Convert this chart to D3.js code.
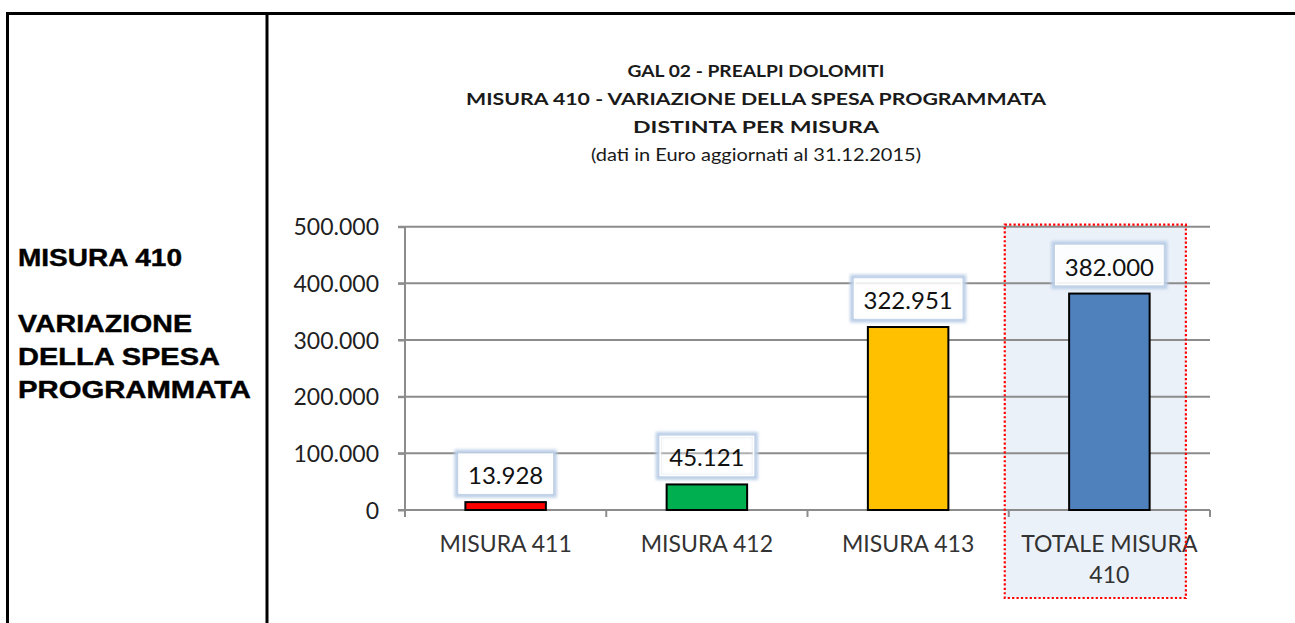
<!DOCTYPE html>
<html>
<head>
<meta charset="utf-8">
<script src="https://cdn.jsdelivr.net/npm/d3@7"></script>
<style>
  html, body { margin: 0; padding: 0; background: #ffffff; }
  svg { display: block; }
</style>
</head>
<body>
<svg id="chart" width="1295" height="623"></svg>
<script>
// ---------- DATA ----------
const categories = ["MISURA 411", "MISURA 412", "MISURA 413", "TOTALE MISURA 410"];
const categoryLines = [["MISURA 411"], ["MISURA 412"], ["MISURA 413"], ["TOTALE MISURA", "410"]];
const values = [13928, 45121, 322951, 382000];
const barColors = ["#FF0000", "#00B050", "#FFC000", "#4F81BD"];
const yTicks = [0, 100000, 200000, 300000, 400000, 500000];
const titleLines = [
  "GAL 02 - PREALPI DOLOMITI",
  "MISURA 410 - VARIAZIONE DELLA SPESA PROGRAMMATA",
  "DISTINTA PER MISURA"
];
const subtitle = "(dati in Euro aggiornati al 31.12.2015)";
const sideLines = ["MISURA 410", "", "VARIAZIONE", "DELLA SPESA", "PROGRAMMATA"];

// ---------- SETUP ----------
const svg = d3.select("#chart");
const it = d3.formatLocale({decimal: ",", thousands: ".", grouping: [3], currency: ["€", ""]});
const fmt = it.format(",d");

const plot = {left: 405, right: 1210, top: 226.7, bottom: 510};
const x = d3.scaleBand().domain(categories).range([plot.left, plot.right])
  .paddingInner(0.6).paddingOuter(0.3);
const y = d3.scaleLinear().domain([0, 500000]).range([plot.bottom, plot.top]);

// ---------- TABLE FRAME ----------
const frame = svg.append("g").attr("stroke", "#000").attr("stroke-width", 3);
frame.append("line").attr("x1", 7.5).attr("x2", 1295).attr("y1", 13.5).attr("y2", 13.5);
frame.append("line").attr("x1", 7.5).attr("x2", 7.5).attr("y1", 12).attr("y2", 623);
frame.append("line").attr("x1", 267).attr("x2", 267).attr("y1", 12).attr("y2", 623);

// side text
const sideBase = [265.5, 298, 331.5, 365, 398];
const sideWidths = [164, 0, 174, 202, 233];
sideLines.forEach((t, i) => {
  if (!t) return;
  svg.append("text")
    .attr("x", 18).attr("y", sideBase[i])
    .attr("font-family", "Liberation Sans, Arial, sans-serif")
    .attr("font-weight", "bold").attr("font-size", 23)
    .attr("stroke", "#000").attr("stroke-width", 0.4)
    .attr("textLength", sideWidths[i]).attr("lengthAdjust", "spacingAndGlyphs")
    .attr("fill", "#000").text(t);
});

// ---------- TITLES ----------
const titleBase = [77, 105, 133];
const titleWidths = [257, 580, 246];
titleLines.forEach((t, i) => {
  svg.append("text")
    .attr("x", 756).attr("y", titleBase[i]).attr("text-anchor", "middle")
    .attr("font-family", "Lato, sans-serif").attr("font-weight", "bold")
    .attr("font-size", 17).attr("fill", "#1a1a1a")
    .attr("textLength", titleWidths[i]).attr("lengthAdjust", "spacingAndGlyphs")
    .text(t);
});
svg.append("text")
  .attr("x", 756).attr("y", 161).attr("text-anchor", "middle")
  .attr("font-family", "Lato, sans-serif").attr("font-size", 17).attr("fill", "#1a1a1a")
  .attr("textLength", 330).attr("lengthAdjust", "spacingAndGlyphs")
  .text(subtitle);

// ---------- HIGHLIGHT (TOTAL) ----------
const lastCat = categories[categories.length - 1];
const hlLeft = x(lastCat) - x.step() * 0.3 - 4;
const hlRight = x(lastCat) + x.bandwidth() + x.step() * 0.2 - 4;
svg.append("rect")
  .attr("x", hlLeft).attr("y", plot.top - 2)
  .attr("width", hlRight - hlLeft).attr("height", 598 - (plot.top - 2))
  .attr("fill", "#EBF1F9");

// ---------- GRID & AXES ----------
const grid = svg.append("g");
grid.selectAll("line.g").data(yTicks.filter(d => d > 0)).join("line")
  .attr("x1", plot.left - 7).attr("x2", plot.right)
  .attr("y1", d => y(d)).attr("y2", d => y(d))
  .attr("stroke", "#8C8C8C").attr("stroke-width", 2);

// y axis
const yAxis = svg.append("g").attr("transform", `translate(${plot.left},0)`)
  .call(d3.axisLeft(y).tickValues(yTicks).tickFormat(fmt).tickSize(7).tickPadding(19));
yAxis.select(".domain").attr("stroke", "#8C8C8C").attr("stroke-width", 2)
  .attr("d", `M0,${plot.top}V${plot.bottom + 7}`);
yAxis.selectAll(".tick line").attr("stroke", "#8C8C8C").attr("stroke-width", 2);
yAxis.selectAll(".tick text")
  .attr("font-family", "Lato, sans-serif").attr("font-size", 23).attr("fill", "#1f1f1f")
  .attr("dy", "0.36em");

// x axis baseline and boundary ticks
const xAxis = svg.append("g").attr("transform", `translate(0,${plot.bottom})`);
xAxis.append("line").attr("x1", plot.left - 7).attr("x2", plot.right)
  .attr("y1", 0).attr("y2", 0).attr("stroke", "#8C8C8C").attr("stroke-width", 2);
const bounds = d3.range(categories.length + 1).map(i => plot.left + i * x.step());
xAxis.selectAll("line.b").data(bounds).join("line")
  .attr("x1", d => d).attr("x2", d => d).attr("y1", 0).attr("y2", 7)
  .attr("stroke", "#8C8C8C").attr("stroke-width", 2);

// category labels
categoryLines.forEach((lines, i) => {
  lines.forEach((t, j) => {
    svg.append("text")
      .attr("x", x(categories[i]) + x.bandwidth() / 2)
      .attr("y", 552 + j * 31).attr("text-anchor", "middle")
      .attr("font-family", "Lato, sans-serif").attr("font-size", 23)
      .attr("fill", "#333333").text(t);
  });
});

// ---------- BARS ----------
svg.append("g").selectAll("rect").data(values).join("rect")
  .attr("x", (d, i) => x(categories[i]))
  .attr("y", d => y(d))
  .attr("width", x.bandwidth())
  .attr("height", d => y(0) - y(d))
  .attr("fill", (d, i) => barColors[i])
  .attr("stroke", "#000").attr("stroke-width", 2);

// ---------- VALUE LABELS ----------
const defs = svg.append("defs");
const f = defs.append("filter").attr("id", "glow").attr("x", "-20%").attr("y", "-30%")
  .attr("width", "140%").attr("height", "160%");
f.append("feGaussianBlur").attr("stdDeviation", 1.5);

const labels = svg.append("g");
values.forEach((v, i) => {
  const cx = x(categories[i]) + x.bandwidth() / 2;
  const boxBottom = y(v) - 7;
  const g = labels.append("g");
  const txt = g.append("text")
    .attr("x", cx).attr("y", boxBottom - 11).attr("text-anchor", "middle")
    .attr("font-family", "Lato, sans-serif").attr("font-size", 24)
    .attr("fill", "#111").text(fmt(v));
  const w = txt.node().getComputedTextLength() + 22;
  const h = 43;
  g.insert("rect", "text")
    .attr("x", cx - w / 2).attr("y", boxBottom - h).attr("width", w).attr("height", h)
    .attr("fill", "none").attr("stroke", "#BCCFE7").attr("stroke-width", 5)
    .attr("filter", "url(#glow)");
  g.insert("rect", "text")
    .attr("x", cx - w / 2 + 2).attr("y", boxBottom - h + 2).attr("width", w - 4).attr("height", h - 4)
    .attr("fill", "#ffffff").attr("fill-opacity", i === 1 ? 0.3 : 0.85)
    .attr("stroke", "#ffffff").attr("stroke-width", 1.5);
});

// highlight dotted border on top
svg.append("rect")
  .attr("x", hlLeft).attr("y", plot.top - 2)
  .attr("width", hlRight - hlLeft).attr("height", 598 - (plot.top - 2))
  .attr("fill", "none").attr("stroke", "#FF0000").attr("stroke-width", 2.2)
  .attr("stroke-dasharray", "2.2,2.2");
</script>
</body>
</html>
